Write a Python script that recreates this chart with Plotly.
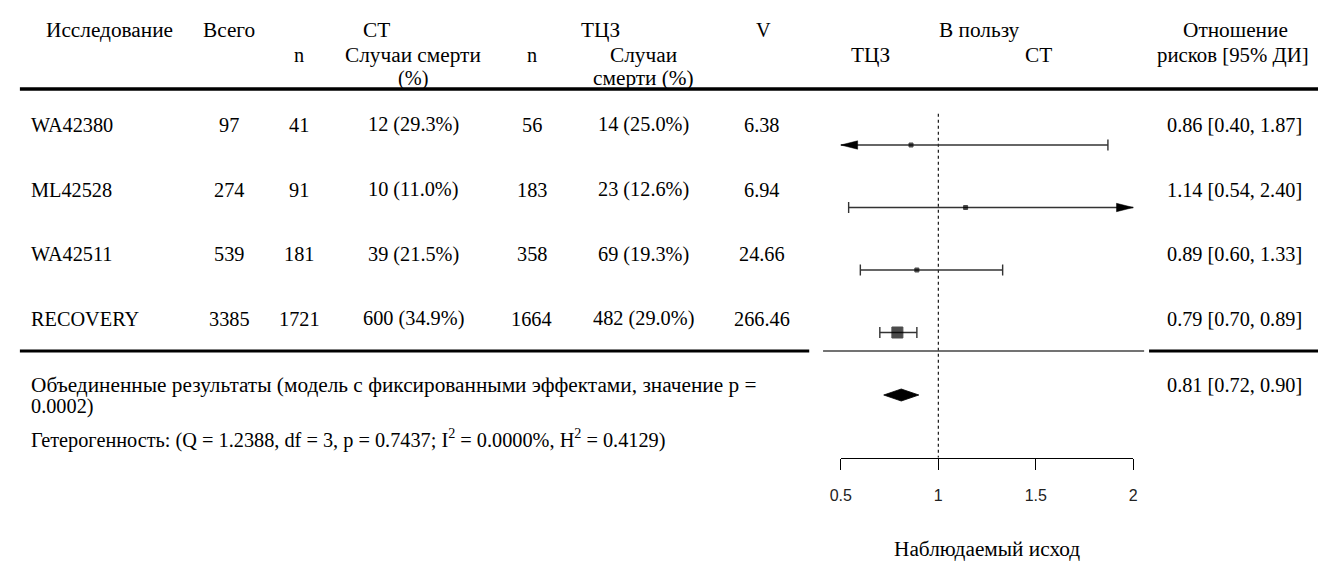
import plotly.graph_objects as go

# ---------------- data ----------------
studies = ["WA42380", "ML42528", "WA42511", "RECOVERY"]
total = ["97", "274", "539", "3385"]
st_n = ["41", "91", "181", "1721"]
st_deaths = ["12 (29.3%)", "10 (11.0%)", "39 (21.5%)", "600 (34.9%)"]
tcz_n = ["56", "183", "358", "1664"]
tcz_deaths = ["14 (25.0%)", "23 (12.6%)", "69 (19.3%)", "482 (29.0%)"]
v_weight = ["6.38", "6.94", "24.66", "266.46"]
rr = [0.86, 1.14, 0.89, 0.79]
ci_lo = [0.40, 0.54, 0.60, 0.70]
ci_hi = [1.87, 2.40, 1.33, 0.89]
rr_text = ["0.86 [0.40, 1.87]", "1.14 [0.54, 2.40]", "0.89 [0.60, 1.33]", "0.79 [0.70, 0.89]"]
pooled_rr, pooled_lo, pooled_hi = 0.81, 0.72, 0.90
pooled_text = "0.81 [0.72, 0.90]"
pooled_line1 = "Объединенные результаты (модель с фиксированными эффектами, значение p ="
pooled_line2 = "0.0002)"
het_label = ("Гетерогенность: (Q = 1.2388, df = 3, p = 0.7437; I<sup>2</sup> = 0.0000%, "
             "H<sup>2</sup> = 0.4129)")
x_ticks = [0.5, 1, 1.5, 2]
x_ticktext = ["0.5", "1", "1.5", "2"]
x_title = "Наблюдаемый исход"
ref_value = 1.0
alim = (0.5, 2.0)

# ---------------- layout constants (pixels) ----------------
W, H = 1323, 561
SERIF = "Liberation Serif, Times New Roman, serif"
SANS = "Liberation Sans, Arial, sans-serif"
FS = 20.3       # latin / numbers
FS_CYR = 21.3   # cyrillic labels
AX_PX = (840, 1136)           # pixel span of 0.5 .. 2
PLOT_PX = (822, 1147)         # forest panel span
ROW1_PX, ROW_PX = 145, 62.5   # forest row grid
TXT_ROW1, TXT_ROW = 125, 64.6 # table text grid
HDR = (30, 55, 78)


def px_x(p):
    return p / W


def px_y(p):
    return 1 - p / H


scale = (AX_PX[1] - AX_PX[0]) / (alim[1] - alim[0])
x_range = [alim[0] - (AX_PX[0] - PLOT_PX[0]) / scale, alim[0] + (PLOT_PX[1] - AX_PX[0]) / scale]
y_range = [1 + (H - ROW1_PX) / ROW_PX, 1 - ROW1_PX / ROW_PX]

rows = list(range(1, len(studies) + 1))
pooled_row = len(studies) + 1
axis_row = len(studies) + 2

fig = go.Figure()
LINE_C = "#333333"

# carrier trace for the visible x axis (drawn first)
fig.add_trace(go.Scatter(x=[alim[0], alim[1]], y=[axis_row, axis_row], xaxis="x2", yaxis="y",
                         mode="lines", line=dict(width=0, color="rgba(0,0,0,0)"),
                         hoverinfo="skip", showlegend=False))

# reference dotted line
fig.add_trace(go.Scatter(x=[ref_value, ref_value], y=[0.5, axis_row], mode="lines",
                         line=dict(color="black", width=1.1, dash="dot"),
                         hoverinfo="skip", showlegend=False))

# CI lines (clipped to axis limits)
lx, ly = [], []
for lo, hi, r in zip(ci_lo, ci_hi, rows):
    lx += [max(lo, alim[0]), min(hi, alim[1]), None]
    ly += [r, r, None]
fig.add_trace(go.Scatter(x=lx, y=ly, mode="lines", line=dict(color=LINE_C, width=1.5),
                         hoverinfo="skip", showlegend=False))

# caps at unclipped ends
cx, cy = [], []
for lo, hi, r in zip(ci_lo, ci_hi, rows):
    if lo >= alim[0]:
        cx.append(lo); cy.append(r)
    if hi <= alim[1]:
        cx.append(hi); cy.append(r)
fig.add_trace(go.Scatter(x=cx, y=cy, mode="markers",
                         marker=dict(symbol="line-ns", size=8, line=dict(color=LINE_C, width=1.4)),
                         hoverinfo="skip", showlegend=False))

# arrows at clipped ends
arr_len = 17 / scale
arr_h = 4.2 / ROW_PX
for lo, hi, r in zip(ci_lo, ci_hi, rows):
    if lo < alim[0]:
        fig.add_trace(go.Scatter(x=[alim[0], alim[0] + arr_len, alim[0] + arr_len, alim[0]],
                                 y=[r, r - arr_h, r + arr_h, r], mode="lines", fill="toself",
                                 fillcolor="black", line=dict(color="black", width=0.5),
                                 hoverinfo="skip", showlegend=False))
    if hi > alim[1]:
        fig.add_trace(go.Scatter(x=[alim[1], alim[1] - arr_len, alim[1] - arr_len, alim[1]],
                                 y=[r, r - arr_h, r + arr_h, r], mode="lines", fill="toself",
                                 fillcolor="black", line=dict(color="black", width=0.5),
                                 hoverinfo="skip", showlegend=False))

# point estimates
fig.add_trace(go.Scatter(x=rr, y=rows, mode="markers",
                         marker=dict(symbol="square", size=[4, 4, 4, 11], color="black",
                                     line=dict(width=1, color="black")),
                         hoverinfo="skip", showlegend=False))

# pooled diamond
dh = 6 / ROW_PX
fig.add_trace(go.Scatter(x=[pooled_lo, pooled_rr, pooled_hi, pooled_rr, pooled_lo],
                         y=[pooled_row, pooled_row - dh, pooled_row, pooled_row + dh, pooled_row],
                         mode="lines", fill="toself", fillcolor="black",
                         line=dict(color="black", width=0.8), hoverinfo="skip", showlegend=False))

# ---------------- text ----------------
ann = []


def txt(text, xp, yp, anchor="center", size=FS, font=SERIF, color="black"):
    ann.append(dict(text=text, x=px_x(xp), y=px_y(yp), xref="paper", yref="paper",
                    xanchor=anchor, yanchor="middle", showarrow=False,
                    font=dict(family=font, size=size, color=color)))


# header
txt("Исследование", 33, HDR[0], "left", FS_CYR)
txt("Всего", 221, HDR[0], size=FS_CYR)
txt("СТ", 370, HDR[0], size=FS_CYR)
txt("n", 292, HDR[1])
txt("Случаи смерти", 407, HDR[1], size=FS_CYR)
txt("(%)", 407, HDR[2])
txt("ТЦЗ", 597, HDR[0], size=FS_CYR)
txt("n", 527, HDR[1])
txt("Случаи", 640, HDR[1], size=FS_CYR)
txt("смерти (%)", 640, HDR[2], size=FS_CYR)
txt("V", 762, HDR[0])
txt("В пользу", 980, HDR[0], size=FS_CYR)
txt("ТЦЗ", 870, HDR[1], size=FS_CYR)
txt("СТ", 1040, HDR[1], size=FS_CYR)
txt("Отношение", 1239, HDR[0], size=FS_CYR)
txt("рисков [95% ДИ]", 1237, HDR[1], size=FS_CYR - 0.5)

cols = [(studies, 18, "left"), (total, 221, "center"), (st_n, 292, "center"),
        (st_deaths, 407, "center"), (tcz_n, 527, "center"), (tcz_deaths, 640, "center"),
        (v_weight, 760, "center"), (rr_text, 1309, "right")]
for vals, xp, anc in cols:
    for i, v in enumerate(vals):
        txt(v, xp, TXT_ROW1 + i * TXT_ROW, anc)

txt(pooled_line1, 18, 385, "left", FS_CYR)
txt(pooled_line2, 18, 406, "left")
txt(pooled_text, 1309, 385, "right")
txt(het_label, 18, 438, "left")
txt(x_title, (AX_PX[0] + AX_PX[1]) / 2, 549, size=FS_CYR)

# ---------------- rules ----------------
shapes = [
    dict(type="line", xref="paper", yref="paper", x0=px_x(9), x1=px_x(W), y0=px_y(89), y1=px_y(89),
         line=dict(color="black", width=3.5)),
    dict(type="line", xref="paper", yref="paper", x0=px_x(9), x1=px_x(808), y0=px_y(351), y1=px_y(351),
         line=dict(color="black", width=3)),
    dict(type="line", xref="paper", yref="paper", x0=px_x(PLOT_PX[0]), x1=px_x(PLOT_PX[1]),
         y0=px_y(351), y1=px_y(351), line=dict(color="#444444", width=1.3)),
    dict(type="line", xref="paper", yref="paper", x0=px_x(1152), x1=px_x(W), y0=px_y(351), y1=px_y(351),
         line=dict(color="black", width=3)),
]

fig.update_layout(
    width=W, height=H, margin=dict(l=0, r=0, t=0, b=0),
    paper_bgcolor="white", plot_bgcolor="rgba(0,0,0,0)",
    xaxis=dict(domain=[px_x(PLOT_PX[0]), px_x(PLOT_PX[1])], range=x_range, visible=False),
    yaxis=dict(domain=[0, 1], range=y_range, visible=False),
    xaxis2=dict(domain=[px_x(AX_PX[0]), px_x(AX_PX[1])], range=list(alim), anchor="free",
                position=px_y(ROW1_PX + (axis_row - 1) * ROW_PX),
                showline=True, linecolor="black", linewidth=1.3,
                ticks="outside", ticklen=11, tickwidth=1.3, tickcolor="black",
                tickvals=x_ticks, ticktext=x_ticktext, showgrid=False, zeroline=False,
                tickfont=dict(family=SANS, size=16, color="#222222"), ticklabelstandoff=12),
    annotations=ann, shapes=shapes, showlegend=False,
)

fig.write_html("out.html", config={"displayModeBar": False},
               post_script="document.body.style.margin='0';")
